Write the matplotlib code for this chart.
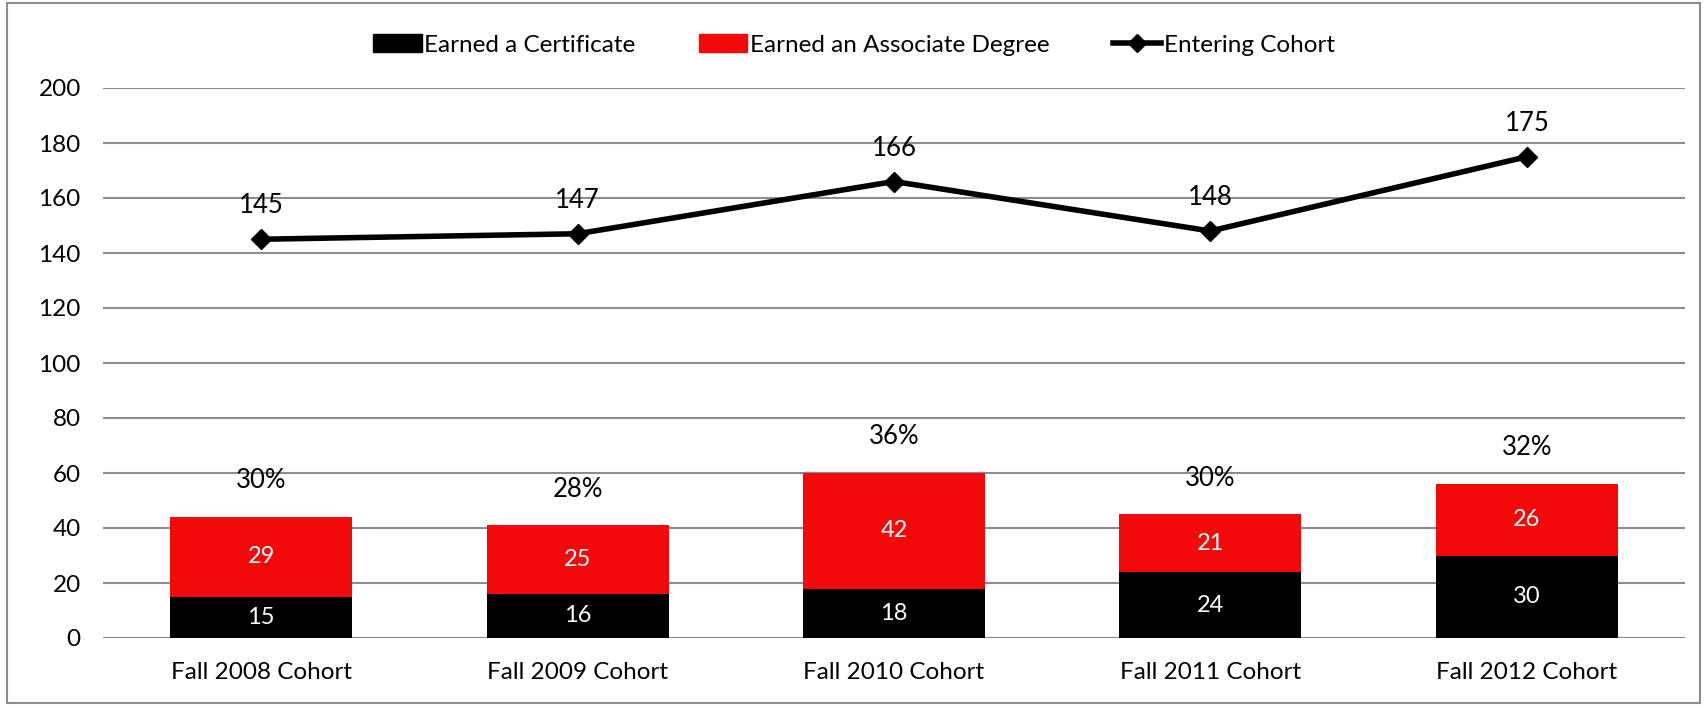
import matplotlib
matplotlib.use("Agg")
import matplotlib.pyplot as plt
from matplotlib.patches import Rectangle
from matplotlib.lines import Line2D
import numpy as np

# data
cohorts = ['Fall 2008 Cohort', 'Fall 2009 Cohort', 'Fall 2010 Cohort',
           'Fall 2011 Cohort', 'Fall 2012 Cohort']
certificate = [15, 16, 18, 24, 30]
associate = [29, 25, 42, 21, 26]
entering = [145, 147, 166, 148, 175]

plt.rcParams['font.family'] = ['Lato', 'DejaVu Sans']

fig = plt.figure(figsize=(17.08, 7.06), dpi=100)
ax = fig.add_axes([103/1708, 1 - 638/706, (1685-103)/1708, (638-88)/706])

x = np.arange(len(cohorts))
cert = np.array(certificate)
assoc = np.array(associate)
total = cert + assoc

ax.bar(x, cert, width=0.575, color='black', label='Earned a Certificate', zorder=3)
ax.bar(x, assoc, bottom=cert, width=0.575, color='#f20a0a',
       label='Earned an Associate Degree', zorder=3)
ax.plot(x, entering, color='black', lw=4, marker='D', ms=10,
        label='Entering Cohort', zorder=4)

for i in range(len(x)):
    ax.text(x[i], cert[i] / 2, str(cert[i]), ha='center', va='center',
            color='white', fontsize=17, zorder=5)
    ax.text(x[i], cert[i] + assoc[i] / 2, str(assoc[i]), ha='center', va='center',
            color='white', fontsize=17, zorder=5)
    pct = round(100 * total[i] / entering[i])
    ax.annotate('%d%%' % pct, (x[i], total[i]), xytext=(0, 26),
                textcoords='offset points', ha='center', va='center', fontsize=18.5)
    ax.annotate(str(entering[i]), (x[i], entering[i]), xytext=(0, 24),
                textcoords='offset points', ha='center', va='center', fontsize=18.5)

ax.set_xlim(-0.5, len(x) - 0.5)
ax.set_ylim(0, 200)
ax.set_yticks(range(0, 201, 20))
ax.set_xticks(x)
ax.set_xticklabels(cohorts)
ax.tick_params(axis='both', length=0, labelsize=17.5)
ax.tick_params(axis='x', pad=17)
ax.tick_params(axis='y', pad=16)
ax.grid(axis='y', color='#8c8c8c', lw=1.5, zorder=0)
for s in ax.spines.values():
    s.set_visible(False)
ax.axhline(0, color='#8c8c8c', lw=1.5, zorder=2)

handles = [Rectangle((0, 0), 1, 1, color='black'),
           Rectangle((0, 0), 1, 1, color='#f20a0a'),
           Line2D([], [], color='black', lw=4, marker='D', ms=9)]
fig.legend(handles, ['Earned a Certificate', 'Earned an Associate Degree', 'Entering Cohort'],
           loc='center', bbox_to_anchor=(0.5, 1 - 45/706), ncol=3, frameon=False,
           fontsize=17.5, handlelength=2.0, handletextpad=0.1, columnspacing=2.6)

fig.patches.append(Rectangle((7/1708, 3/706), (1700-7)/1708, (703-3)/706,
                             transform=fig.transFigure, fill=False,
                             edgecolor='#8c8c8c', lw=1.5))

fig.savefig('out.png', dpi=100)
